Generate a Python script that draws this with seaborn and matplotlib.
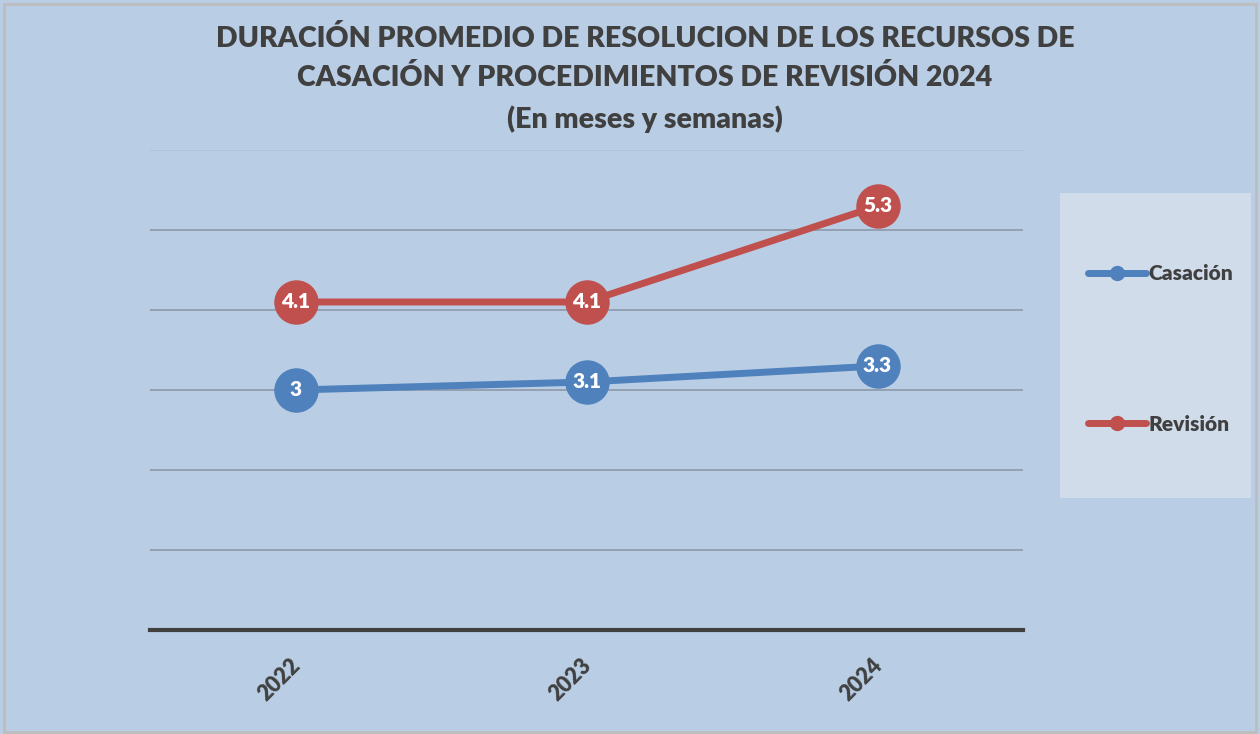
import pandas as pd
import numpy as np
import seaborn as sns
import matplotlib.pyplot as plt
import matplotlib.transforms as mtransforms
from matplotlib.patches import Rectangle
from matplotlib.lines import Line2D

sns.set_style("white")
plt.rcParams['font.family'] = ['Lato', 'DejaVu Sans']

years = ['2022', '2023', '2024']
casacion = [3, 3.1, 3.3]
revision = [4.1, 4.1, 5.3]
series = ['Casación', 'Revisión']
colors = {'Casación': '#4f81bd', 'Revisión': '#c0504d'}

df = pd.DataFrame({
    'Año': years * 2,
    'Meses': casacion + revision,
    'Serie': [series[0]] * 3 + [series[1]] * 3,
})

bg = '#b9cde4'
fig = plt.figure(figsize=(12.6, 7.34), dpi=100, facecolor=bg)
fig.patches.append(Rectangle((0.003, 0.003), 0.994, 0.992, transform=fig.transFigure,
                             fill=False, edgecolor='#bdbdbd', linewidth=2))
ax = fig.add_axes([150 / 1260, 1 - 630 / 734, 873 / 1260, 480 / 734])
ax.set_facecolor(bg)

sns.lineplot(data=df, x='Año', y='Meses', hue='Serie', palette=colors, marker='o',
             markersize=32, markeredgewidth=0, linewidth=5, sort=False, legend=False, ax=ax)

# etiquetas de datos
for s, vals in zip(series, [casacion, revision]):
    for i, v in enumerate(vals):
        ax.text(i, v, f'{v:g}', ha='center', va='center', color='white',
                fontsize=15, fontweight='heavy', zorder=5)

ax.set_xlim(-0.5, 2.5)
ax.set_ylim(0, 6)
ax.set_yticks(range(0, 7))
ax.yaxis.grid(True, color='#8c99a8', linewidth=1.2)
ax.set_axisbelow(True)
ax.get_ygridlines()[-1].set_color('#aebfd2')
ax.tick_params(axis='y', left=False, labelleft=False)
ax.tick_params(axis='x', bottom=False, pad=14)
ax.set_xticks(range(len(years)))
ax.set_xticklabels(years, rotation=45, ha='right', rotation_mode='anchor',
                   fontsize=15.5, fontweight='heavy', color='#404040')
shift = mtransforms.ScaledTranslation(-6 / 100, 0, fig.dpi_scale_trans)
for lbl in ax.get_xticklabels():
    lbl.set_transform(lbl.get_transform() + shift)
for sp in ['top', 'right', 'left']:
    ax.spines[sp].set_visible(False)
ax.spines['bottom'].set_color('#404040')
ax.spines['bottom'].set_linewidth(3)
ax.set_xlabel('')
ax.set_ylabel('')

titulo = ['DURACIÓN PROMEDIO DE RESOLUCION DE LOS RECURSOS DE',
          'CASACIÓN Y PROCEDIMIENTOS DE REVISIÓN 2024',
          '(En meses y semanas)']
for y, t in zip([0.948, 0.894, 0.837], titulo):
    fig.text(0.512, y, t, ha='center', va='center', fontsize=20.5,
             fontweight='heavy', color='#404040')

# leyenda
fig.patches.append(Rectangle((1060 / 1260, 1 - 498 / 734), 191 / 1260, 305 / 734,
                             transform=fig.transFigure, facecolor='#d0dcea', edgecolor='none'))
handles = [Line2D([0], [0], color=colors[s], linewidth=5, marker='o', markersize=10) for s in series]
leg = fig.legend(handles, series, loc='upper left', bbox_to_anchor=(1078 / 1260, 1 - 254 / 734),
                 frameon=False, prop={'size': 15, 'weight': 'heavy'}, labelspacing=6.3,
                 handlelength=2.75, handletextpad=0.15, borderpad=0)
for t in leg.get_texts():
    t.set_color('#404040')

fig.savefig('out.png', dpi=100, facecolor=bg)
